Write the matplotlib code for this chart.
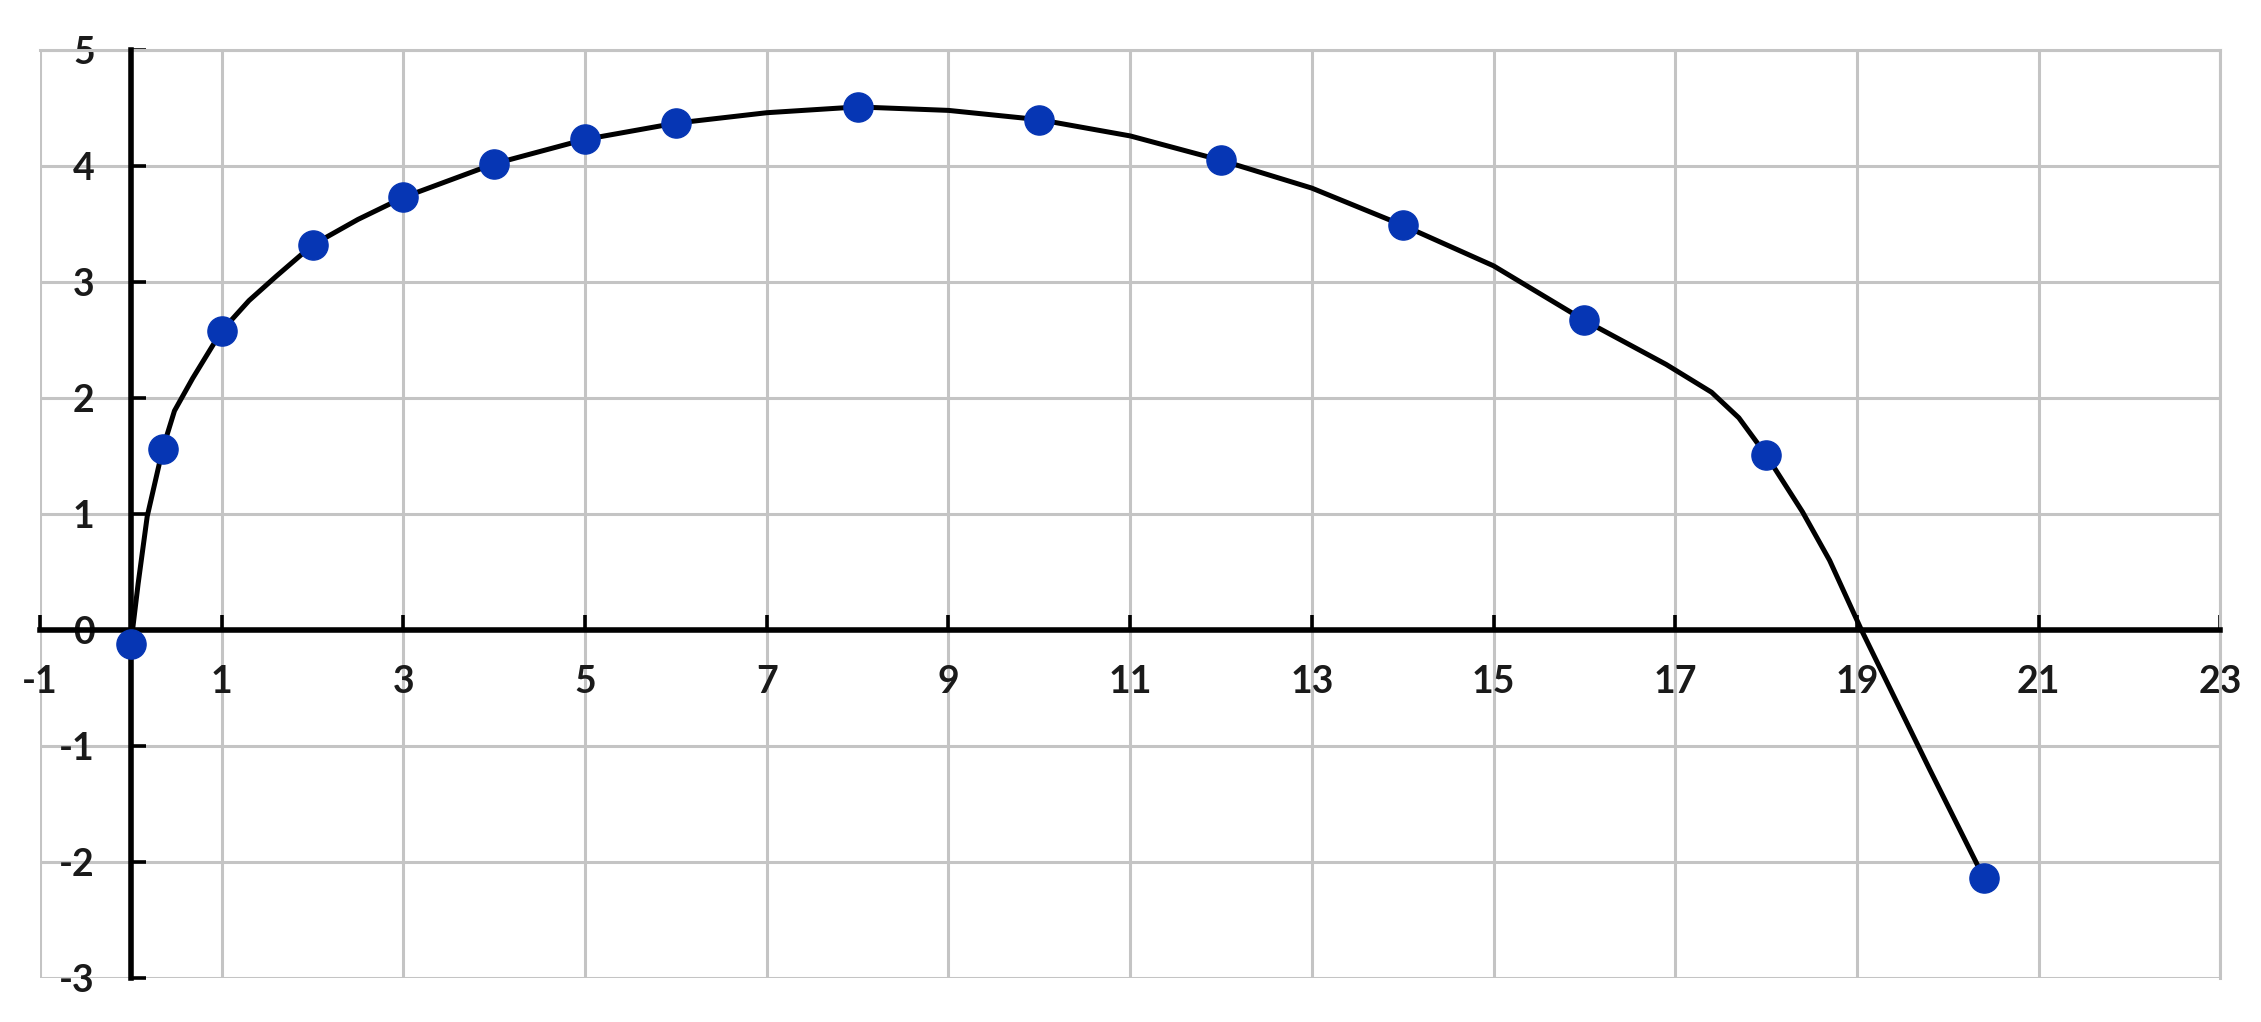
import matplotlib.pyplot as plt

# measured points (blue dots)
pts_x = [0, 0.35, 1, 2, 3, 4, 5, 6, 8, 10, 12, 14, 16, 18, 20.4]
pts_y = [-0.12, 1.56, 2.58, 3.32, 3.73, 4.02, 4.23, 4.37, 4.51, 4.40, 4.05, 3.49, 2.67, 1.51, -2.14]

# smooth black curve
curve_x = [0, 0.08, 0.18, 0.35, 0.48, 0.68, 1.0, 1.3, 1.6, 2, 2.5, 3, 4, 5, 6, 7, 8, 9, 10,
           11, 12, 13, 14, 15, 16, 16.9, 17.4, 17.7, 18, 18.4, 18.7, 19.05, 19.8, 20.4]
curve_y = [-0.12, 0.4, 0.98, 1.56, 1.89, 2.17, 2.58, 2.84, 3.05, 3.32, 3.54, 3.73, 4.02, 4.23,
           4.37, 4.46, 4.51, 4.48, 4.40, 4.26, 4.05, 3.81, 3.49, 3.14, 2.67, 2.29, 2.05, 1.83,
           1.51, 1.02, 0.6, 0.0, -1.2, -2.14]

xticks = list(range(-1, 24, 2))
yticks = list(range(-3, 6))

plt.rcParams['font.family'] = ['Lato', 'DejaVu Sans']
plt.rcParams['axes.unicode_minus'] = False

fig, ax = plt.subplots(figsize=(22.61, 10.22), dpi=100)
fig.subplots_adjust(left=0.0177, right=0.982, top=0.951, bottom=0.043)

ax.plot(curve_x, curve_y, color='black', lw=3.6, zorder=3,
        solid_capstyle='round', solid_joinstyle='round')
ax.plot(pts_x, pts_y, 'o', color='#0636b4', markersize=21, zorder=5, clip_on=False)

ax.set_xlim(-1, 23)
ax.set_ylim(-3, 5)
ax.set_xticks(xticks)
ax.set_yticks(yticks)
ax.grid(color='#c4c4c4', lw=2.2)
ax.set_axisbelow(True)

ax.spines['left'].set_position(('data', 0))
ax.spines['bottom'].set_position(('data', 0))
ax.spines['left'].set_linewidth(4)
ax.spines['bottom'].set_linewidth(4)
ax.spines['left'].set_zorder(4)
ax.spines['bottom'].set_zorder(4)
for s in ['top', 'right']:
    ax.spines[s].set_color('#c4c4c4')
    ax.spines[s].set_linewidth(2.2)

ax.tick_params(axis='x', direction='in', length=10.5, width=2.6, pad=25,
               labelsize=27, labelcolor='#1a1a1a')
ax.tick_params(axis='y', direction='in', length=10.5, width=2.6, pad=26,
               labelsize=27, labelcolor='#1a1a1a')
for lab in ax.get_xticklabels() + ax.get_yticklabels():
    lab.set_fontweight('bold')

fig.savefig('out.png', dpi=100)
